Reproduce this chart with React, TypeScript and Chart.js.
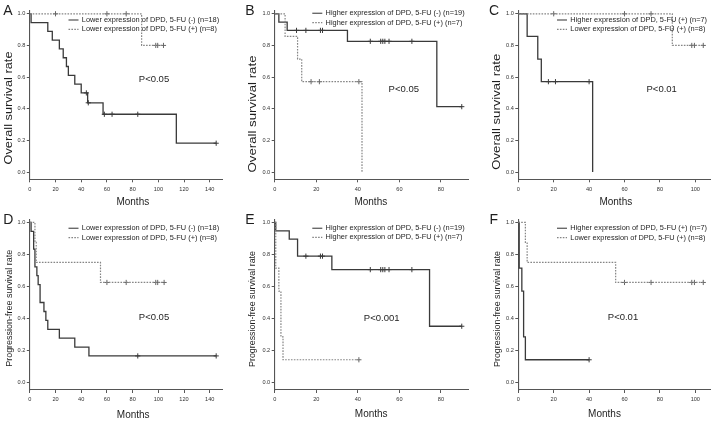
import React, { useEffect, useRef } from "react";
import { Chart, registerables } from "chart.js";

Chart.register(...registerables);

const FONT = "'Liberation Sans', Arial, Helvetica, sans-serif";

// ---------- tick labels ----------
const yTickValues = [0, 0.2, 0.4, 0.6, 0.8, 1.0];
const xTicksA = [0, 20, 40, 60, 80, 100, 120, 140];
const xTicksB = [0, 20, 40, 60, 80];
const xTicksC = [0, 20, 40, 60, 80, 100];

// ---------- Panel A: overall survival, lower DPD ----------
const aSolidEvents = [1, 14, 17.5, 23, 26, 28.5, 30, 35, 40, 45, 57, 114];
const aSolidSurv = [0.944, 0.889, 0.833, 0.778, 0.722, 0.667, 0.611, 0.556, 0.5, 0.4375, 0.365, 0.182];
const aSolidCensor = [44, 45.5, 58, 64, 84, 145];
const aDashEvents = [87];
const aDashSurv = [0.8];
const aDashCensor = [20, 60, 75, 98, 99.5, 104];

// ---------- Panel B: overall survival, higher DPD ----------
const bSolidEvents = [2, 6, 35, 78];
const bSolidSurv = [0.947, 0.895, 0.826, 0.413];
const bSolidCensor = [10.5, 15, 22, 23, 46, 51, 52, 53, 55, 66, 90];
const bDashEvents = [5, 11, 13, 42];
const bDashSurv = [0.857, 0.714, 0.571, 0];
const bDashCensor = [17.5, 21.5, 40.5];

// ---------- Panel C: overall survival, 5-FU (+) ----------
const cSolidEvents = [5, 11, 13, 42];
const cSolidSurv = [0.857, 0.714, 0.571, 0];
const cSolidCensor = [17, 21, 40];
const cDashEvents = [87];
const cDashSurv = [0.8];
const cDashCensor = [20, 60, 75, 98, 99.5, 104.5];

// ---------- Panel D: progression-free, lower DPD ----------
const dSolidEvents = [1, 3, 4, 5.5, 6.5, 8, 11, 12.5, 14, 23, 35, 46];
const dSolidSurv = [0.944, 0.833, 0.722, 0.667, 0.611, 0.5, 0.444, 0.389, 0.333, 0.278, 0.222, 0.167];
const dSolidCensor = [84, 145];
const dDashEvents = [4, 5, 55];
const dDashSurv = [0.875, 0.75, 0.625];
const dDashCensor = [60, 75, 98, 99.5, 104.5];

// ---------- Panel E: progression-free, higher DPD ----------
const eSolidEvents = [0.5, 7, 11, 27.5, 74.5];
const eSolidSurv = [0.947, 0.895, 0.789, 0.705, 0.352];
const eSolidCensor = [15, 22, 23, 46, 51, 52, 53, 55, 66, 90];
const eDashEvents = [0.5, 2, 3, 4];
const eDashSurv = [0.714, 0.571, 0.286, 0.143];
const eDashCensor = [40.5];

// ---------- Panel F: progression-free, 5-FU (+) ----------
const fSolidEvents = [0.5, 2, 3, 4];
const fSolidSurv = [0.714, 0.571, 0.286, 0.143];
const fSolidCensor = [40];
const fDashEvents = [4, 5, 55];
const fDashSurv = [0.875, 0.75, 0.625];
const fDashCensor = [60, 75, 98, 99.5, 104.5];

// ---------- texts ----------
const lowerNeg18 = "Lower expression of DPD, 5-FU (-) (n=18)";
const lowerPos8 = "Lower expression of DPD, 5-FU (+) (n=8)";
const higherNeg19 = "Higher expression of DPD, 5-FU (-) (n=19)";
const higherPos7 = "Higher expression of DPD, 5-FU (+) (n=7)";
const osTitle = "Overall survival rate";
const pfsTitle = "Progression-free survival rate";
const xTitle = "Months";

type Curve = { events: number[]; surv: number[]; censor: number[] };
type Panel = {
  letter: string;
  solid: Curve;
  dash: Curve;
  legend: [string, string];
  pText: string;
  yTitle: string;
  xTicks: number[];
  // layout
  left: number; top: number; w: number; h: number;
  yAxisW: number; padTop: number; padRight: number; xAxisH: number;
  xMax: number; yMin: number; yMax: number;
  letterPos: [number, number];
  legendX: number; legendY: [number, number];
  pPos: [number, number];
  yTitlePos: [number, number]; yTitleLen: number; yTitleSize: number;
  xTitlePos: [number, number];
};

const topGeom = { top: 0, h: 210, padTop: 10.3, xAxisH: 30.7, yMin: -0.046, yMax: 1.022, yTitleSize: 10.5 };
const botGeom = { top: 210, h: 213, padTop: 9.1, xAxisH: 33, yMin: -0.0455, yMax: 1.02, yTitleSize: 9.3 };
const colA = { left: 0, w: 235, yAxisW: 29.8, padRight: 12.4, xMax: 150 };
const colB = { left: 235, w: 240, yAxisW: 39.7, padRight: 7, xMax: 93 };
const colC = { left: 475, w: 241, yAxisW: 43.3, padRight: 6, xMax: 108.3 };

const panels: Panel[] = [
  {
    letter: "A", ...topGeom, ...colA,
    solid: { events: aSolidEvents, surv: aSolidSurv, censor: aSolidCensor },
    dash: { events: aDashEvents, surv: aDashSurv, censor: aDashCensor },
    legend: [lowerNeg18, lowerPos8], pText: "P<0.05", yTitle: osTitle, xTicks: xTicksA,
    letterPos: [8, 11.5], legendX: 68.5, legendY: [20, 29.3], pPos: [154, 79],
    yTitlePos: [9, 108], yTitleLen: 113, xTitlePos: [132.8, 202.5],
  },
  {
    letter: "B", ...topGeom, ...colB,
    solid: { events: bSolidEvents, surv: bSolidSurv, censor: bSolidCensor },
    dash: { events: bDashEvents, surv: bDashSurv, censor: bDashCensor },
    legend: [higherNeg19, higherPos7], pText: "P<0.05", yTitle: osTitle, xTicks: xTicksB,
    letterPos: [15, 11.5], legendX: 77.3, legendY: [13.3, 22.7], pPos: [168.8, 89],
    yTitlePos: [17.8, 114], yTitleLen: 117, xTitlePos: [135.8, 202.3],
  },
  {
    letter: "C", ...topGeom, ...colC,
    solid: { events: cSolidEvents, surv: cSolidSurv, censor: cSolidCensor },
    dash: { events: cDashEvents, surv: cDashSurv, censor: cDashCensor },
    legend: [higherPos7, lowerPos8], pText: "P<0.01", yTitle: osTitle, xTicks: xTicksC,
    letterPos: [19, 11.5], legendX: 82, legendY: [20, 29.3], pPos: [186.7, 89],
    yTitlePos: [21.7, 111.7], yTitleLen: 116, xTitlePos: [140.8, 202.3],
  },
  {
    letter: "D", ...botGeom, ...colA,
    solid: { events: dSolidEvents, surv: dSolidSurv, censor: dSolidCensor },
    dash: { events: dDashEvents, surv: dDashSurv, censor: dDashCensor },
    legend: [lowerNeg18, lowerPos8], pText: "P<0.05", yTitle: pfsTitle, xTicks: xTicksA,
    letterPos: [8.3, 10], legendX: 68.5, legendY: [18.3, 27.7], pPos: [154, 107.7],
    yTitlePos: [9.2, 98.3], yTitleLen: 117, xTitlePos: [133.2, 205],
  },
  {
    letter: "E", ...botGeom, ...colB,
    solid: { events: eSolidEvents, surv: eSolidSurv, censor: eSolidCensor },
    dash: { events: eDashEvents, surv: eDashSurv, censor: eDashCensor },
    legend: [higherNeg19, higherPos7], pText: "P<0.001", yTitle: pfsTitle, xTicks: xTicksB,
    letterPos: [15, 10], legendX: 77.3, legendY: [18.3, 27.3], pPos: [146.7, 108.3],
    yTitlePos: [17.8, 99], yTitleLen: 116, xTitlePos: [136.2, 204.3],
  },
  {
    letter: "F", ...botGeom, ...colC,
    solid: { events: fSolidEvents, surv: fSolidSurv, censor: fSolidCensor },
    dash: { events: fDashEvents, surv: fDashSurv, censor: fDashCensor },
    legend: [higherPos7, lowerPos8], pText: "P<0.01", yTitle: pfsTitle, xTicks: xTicksC,
    letterPos: [18.7, 10], legendX: 82, legendY: [18.3, 27.7], pPos: [148, 107.7],
    yTitlePos: [22.5, 99], yTitleLen: 116, xTitlePos: [129.5, 204],
  },
];

const SOLID_COLOR = "#3a3a3a";
const DASH_COLOR = "#858585";
const TEXT_COLOR = "#1e1e1e";
const AXIS_COLOR = "#555555";
const DASH_PATTERN = [1.6, 1.3];

function stepPoints(c: Curve) {
  const pts = [{ x: 0, y: 1 }];
  c.events.forEach((t, i) => pts.push({ x: t, y: c.surv[i] }));
  const last = pts[pts.length - 1];
  const endT = Math.max(last.x, ...c.censor);
  if (endT > last.x) pts.push({ x: endT, y: last.y });
  return pts;
}

function survAt(c: Curve, t: number) {
  let s = 1;
  c.events.forEach((e, i) => {
    if (e <= t) s = c.surv[i];
  });
  return s;
}

function censorPoints(c: Curve) {
  return c.censor.map((t) => ({ x: t, y: survAt(c, t) }));
}

function textPlugin(p: Panel) {
  return {
    id: "panelTexts" + p.letter,
    afterDraw(chart: any) {
      const ctx: CanvasRenderingContext2D = chart.ctx;
      ctx.save();
      ctx.fillStyle = TEXT_COLOR;
      ctx.textBaseline = "middle";

      // panel letter
      ctx.font = `14px ${FONT}`;
      ctx.textAlign = "center";
      ctx.fillText(p.letter, p.letterPos[0], p.letterPos[1]);

      // legend
      ctx.font = `7.4px ${FONT}`;
      ctx.textAlign = "left";
      [0, 1].forEach((k) => {
        const y = p.legendY[k];
        ctx.save();
        ctx.strokeStyle = k === 0 ? "#6a6a6a" : DASH_COLOR;
        ctx.lineWidth = k === 0 ? 1.4 : 1.2;
        ctx.setLineDash(k === 0 ? [] : DASH_PATTERN);
        ctx.beginPath();
        ctx.moveTo(p.legendX, y);
        ctx.lineTo(p.legendX + 10, y);
        ctx.stroke();
        ctx.restore();
        ctx.fillText(p.legend[k], p.legendX + 13.3, y);
      });

      // P value
      ctx.font = `9.5px ${FONT}`;
      ctx.textAlign = "center";
      ctx.fillText(p.pText, p.pPos[0], p.pPos[1]);

      // x title
      ctx.font = `10px ${FONT}`;
      ctx.fillText(xTitle, p.xTitlePos[0], p.xTitlePos[1]);

      // y title (rotated, stretched to measured length)
      ctx.font = `${p.yTitleSize}px ${FONT}`;
      const natural = ctx.measureText(p.yTitle).width;
      ctx.save();
      ctx.translate(p.yTitlePos[0], p.yTitlePos[1]);
      ctx.rotate(-Math.PI / 2);
      ctx.scale(p.yTitleLen / natural, 1);
      ctx.fillText(p.yTitle, 0, 0);
      ctx.restore();

      ctx.restore();
    },
  };
}

function PanelChart({ p }: { p: Panel }) {
  const ref = useRef<HTMLCanvasElement | null>(null);
  useEffect(() => {
    if (!ref.current) return;
    const lineDs = (c: Curve, dashed: boolean) => ({
      type: "line" as const,
      data: stepPoints(c),
      stepped: "before" as const,
      borderColor: dashed ? DASH_COLOR : SOLID_COLOR,
      borderWidth: dashed ? 1.2 : 1.3,
      borderDash: dashed ? DASH_PATTERN : [],
      pointRadius: 0,
      tension: 0,
      fill: false,
      clip: false as const,
    });
    const censorDs = (c: Curve, dashed: boolean) => ({
      type: "line" as const,
      data: censorPoints(c),
      showLine: false,
      pointStyle: "cross" as const,
      pointRadius: 2.6,
      pointBorderWidth: 1,
      pointBorderColor: dashed ? "#666666" : SOLID_COLOR,
      pointBackgroundColor: dashed ? "#666666" : SOLID_COLOR,
      clip: false as const,
    });
    const tickFont = { size: 5.6, family: FONT };
    const chart = new Chart(ref.current, {
      type: "line",
      data: {
        datasets: [
          lineDs(p.dash, true),
          censorDs(p.dash, true),
          lineDs(p.solid, false),
          censorDs(p.solid, false),
        ] as any,
      },
      options: {
        animation: false,
        responsive: false,
        maintainAspectRatio: false,
        layout: { padding: { left: 0, top: p.padTop, right: p.padRight, bottom: 0 } },
        plugins: {
          legend: { display: false },
          tooltip: { enabled: false },
          title: { display: false },
        },
        scales: {
          x: {
            type: "linear",
            min: 0,
            max: p.xMax,
            afterBuildTicks: (s: any) => {
              s.ticks = p.xTicks.map((v) => ({ value: v }));
            },
            afterFit: (s: any) => {
              s.height = p.xAxisH;
            },
            grid: { drawOnChartArea: false, drawTicks: true, tickLength: 3, color: AXIS_COLOR, lineWidth: 1 },
            border: { display: true, color: AXIS_COLOR, width: 1.1 },
            ticks: {
              font: tickFont,
              color: "#333",
              padding: 3.5,
              maxRotation: 0,
              autoSkip: false,
              callback: (v: any) => String(v),
            },
          },
          y: {
            type: "linear",
            min: p.yMin,
            max: p.yMax,
            afterBuildTicks: (s: any) => {
              s.ticks = yTickValues.map((v) => ({ value: v }));
            },
            afterFit: (s: any) => {
              s.width = p.yAxisW;
            },
            grid: { drawOnChartArea: false, drawTicks: true, tickLength: 3, color: AXIS_COLOR, lineWidth: 1 },
            border: { display: true, color: AXIS_COLOR, width: 1.1 },
            ticks: {
              font: tickFont,
              color: "#333",
              padding: 1.5,
              autoSkip: false,
              callback: (v: any) => Number(v).toFixed(1),
            },
          },
        },
      } as any,
      plugins: [textPlugin(p)],
    });
    return () => chart.destroy();
  }, [p]);
  return (
    <canvas
      ref={ref}
      width={p.w}
      height={p.h}
      style={{ position: "absolute", left: p.left, top: p.top, width: p.w, height: p.h }}
    />
  );
}

export default function App() {
  return (
    <div
      style={{
        position: "absolute",
        left: 0,
        top: 0,
        width: 716,
        height: 423,
        background: "#ffffff",
        overflow: "hidden",
      }}
    >
      {panels.map((p) => (
        <PanelChart key={p.letter} p={p} />
      ))}
    </div>
  );
}
